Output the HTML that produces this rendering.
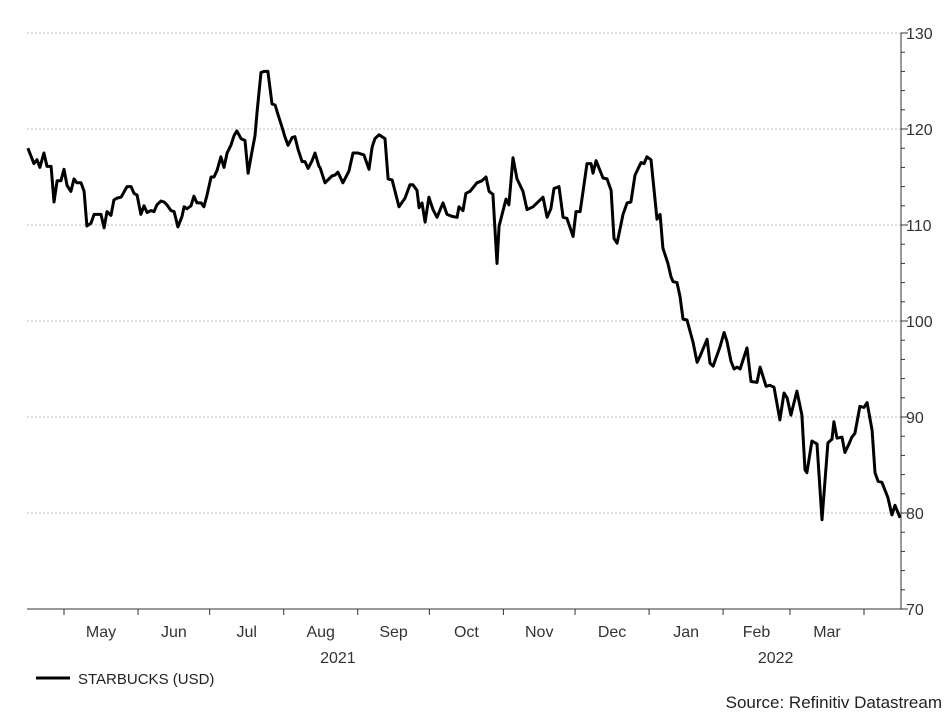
<!DOCTYPE html>
<html><head><meta charset="utf-8"><style>
body{margin:0;background:#fff;font-family:"Liberation Sans",sans-serif;}
svg{display:block}
</style></head><body>
<svg id="chart" width="951" height="714" xmlns="http://www.w3.org/2000/svg">
<g id="grid"></g>
<g id="yaxis"></g>
<g id="xaxis"></g>
<path id="line" fill="none" stroke="#000" stroke-width="3" stroke-linejoin="round"/>
<line x1="36" y1="678" x2="70" y2="678" stroke="#000" stroke-width="3"/>
<text x="78" y="684" font-size="15" fill="#222">STARBUCKS (USD)</text>
<text x="942" y="708" font-size="17" fill="#222" text-anchor="end">Source: Refinitiv Datastream</text>
</svg>
<script>
// days since 2021-05-01
const dayOffsets=[-15.1,-12.6,-11.3,-10.1,-8.4,-7.1,-5.4,-4.2,-2.9,-1.3,0,1.3,2.9,4.2,5.4,7.1,8.4,9.6,11.3,12.6,13.8,15.5,16.8,18.0,19.7,20.9,22.2,23.9,26.4,28.1,29.3,30.6,32.2,33.5,34.8,36.4,37.7,38.9,40.6,41.9,43.1,44.8,46.1,47.7,49.4,50.3,51.5,53.2,54.4,55.7,57.4,58.6,59.9,61.6,62.8,64.1,65.7,67.0,68.3,69.9,71.2,72.4,74.1,75.8,77.1,78.7,80.0,80.8,82.5,83.8,85.4,87.1,88.4,89.6,91.3,92.5,93.8,95.5,96.7,98.0,99.7,100.9,102.2,103.9,105.1,106.8,107.2,109.3,112.2,113.5,114.7,116.8,119.3,121.0,123.1,125.6,127.7,129.0,130.2,131.9,134.4,135.7,137.4,140.3,142.8,144.9,146.1,147.8,148.7,149.9,151.2,152.8,154.5,156.2,158.7,160.4,162.5,164.6,165.4,167.1,168.3,170.0,172.9,175.0,176.7,178.0,179.6,181.3,182.2,185.1,186.3,188.0,189.7,192.2,193.9,196.4,200.6,202.3,203.9,205.2,207.3,209.0,210.6,213.2,214.4,216.1,217.3,219.0,220.7,221.5,222.8,225.7,227.4,229.1,230.3,231.6,234.1,235.8,237.4,239.1,241.6,242.9,244.1,245.8,248.3,249.6,250.8,252.9,254.2,255.0,256.7,258.0,259.2,260.9,263.4,265.1,266.3,269.3,270.5,271.8,274.7,276.4,277.6,279.3,280.6,281.8,283.1,286.0,287.7,290.2,291.5,294.0,295.6,297.3,299.8,301.5,302.8,304.4,306.9,309.0,310.3,311.1,313.2,315.3,317.4,318.7,319.9,321.6,322.4,323.7,325.8,327.0,328.7,329.9,331.2,333.3,335.0,336.3,338.4,339.6,340.9,342.5,345.0,346.7,348.0,350.1];
const prices=[118.0,116.4,116.8,116.0,117.5,116.1,116.1,112.4,114.6,114.6,115.8,114.1,113.5,114.8,114.4,114.4,113.5,109.9,110.2,111.1,111.1,111.1,109.7,111.4,111.0,112.6,112.8,112.9,114.0,114.0,113.3,113.1,111.1,112.0,111.3,111.5,111.4,112.1,112.5,112.4,112.1,111.5,111.4,109.8,110.9,111.9,111.7,112.0,113.0,112.3,112.3,111.9,113.1,115.0,115.0,115.7,117.1,116.0,117.5,118.3,119.3,119.8,119.0,118.8,115.4,117.6,119.3,121.7,125.9,126.0,126.0,122.6,122.5,121.5,120.2,119.2,118.3,119.1,119.2,117.9,116.6,116.6,115.9,116.7,117.5,116.1,116.0,114.4,115.1,115.2,115.5,114.4,115.6,117.5,117.5,117.3,115.8,118.1,119.0,119.4,119.0,114.8,114.7,111.9,112.8,114.2,114.2,113.6,111.8,112.3,110.3,112.9,111.6,110.8,112.3,111.1,110.9,110.8,111.9,111.5,113.3,113.5,114.4,114.6,115.0,113.5,113.2,106.0,109.9,112.7,112.1,117.0,114.8,113.5,111.6,111.9,112.9,110.8,111.7,113.8,114.0,110.8,110.7,108.8,111.4,111.4,113.4,116.4,116.4,115.4,116.7,114.9,114.8,113.6,108.6,108.1,111.1,112.3,112.4,115.2,116.5,116.4,117.1,116.8,110.6,111.1,107.6,106.0,104.6,104.1,104.0,102.5,100.2,100.1,97.8,95.7,96.3,98.1,95.6,95.3,97.3,98.8,97.9,95.8,95.0,95.2,95.0,97.2,93.7,93.6,95.2,93.2,93.3,93.1,89.7,92.5,92.0,90.2,92.7,90.2,84.5,84.2,87.5,87.2,79.3,83.5,87.3,87.7,89.5,87.8,87.9,86.3,87.2,87.9,88.3,91.1,91.0,91.5,88.6,84.2,83.3,83.2,81.6,79.8,80.8,79.5,79.6];
const yTicks=[70,80,90,100,110,120,130];
const monthLabels=["May","Jun","Jul","Aug","Sep","Oct","Nov","Dec","Jan","Feb","Mar"];
const monthStarts=[0,31,61,92,123,153,184,214,245,276,304,335];
const yearLabels=[["2021",114.7],["2022",298]];

const X0=27,X1=901,Y0=33,Y1=609;
const xs=d=>64+d*(800/335);
const ys=v=>Y0+(130-v)*(Y1-Y0)/60;
const NS="http://www.w3.org/2000/svg";
function mk(tag,attrs,parent,txt){const e=document.createElementNS(NS,tag);for(const k in attrs)e.setAttribute(k,attrs[k]);if(txt!=null)e.textContent=txt;parent.appendChild(e);return e;}
const grid=document.getElementById('grid'),ya=document.getElementById('yaxis'),xa=document.getElementById('xaxis');
yTicks.forEach(v=>{
  if(v>70){const g=mk('line',{x1:X0,x2:X1,y1:ys(v),y2:ys(v),stroke:'#bbb','stroke-width':1,'stroke-dasharray':'2,2'},grid);
  
  }
  const t=mk('line',{x1:X1,x2:X1+7,y1:ys(v),y2:ys(v),stroke:'#333'},ya);
  
  
  const l=mk('text',{x:X1+5,y:ys(v)+6,'font-size':16,fill:'#333'},ya,String(v));
  
  
});
for(let v=72;v<130;v+=2){if(v%10===0)continue;
  const t=mk('line',{x1:X1,x2:X1+4,y1:ys(v),y2:ys(v),stroke:'#333'},ya);
  
  }
const ax=mk('line',{x1:X1,x2:X1,y1:Y0,y2:Y1,stroke:'#333'},ya);


const bx=mk('line',{x1:X0,x2:X1,y1:Y1,y2:Y1,stroke:'#333'},xa);


monthStarts.forEach(d=>{const t=mk('line',{x1:xs(d),x2:xs(d),y1:Y1,y2:Y1+6,stroke:'#333'},xa);
  
  });
monthLabels.forEach((m,i)=>{const c=(xs(monthStarts[i])+xs(monthStarts[i+1]))/2;
  const t=mk('text',{x:c,y:637,'font-size':16,fill:'#333','text-anchor':'middle'},xa,m);
  
  });
yearLabels.forEach(([y,d])=>{const t=mk('text',{x:xs(d),y:663,'font-size':16,fill:'#333','text-anchor':'middle'},xa,y);
  
  });
document.getElementById('line').setAttribute('d',prices.map((v,i)=>(i?'L':'M')+xs(dayOffsets[i]).toFixed(1)+','+ys(v).toFixed(1)).join(''));
</script>
</body></html>
